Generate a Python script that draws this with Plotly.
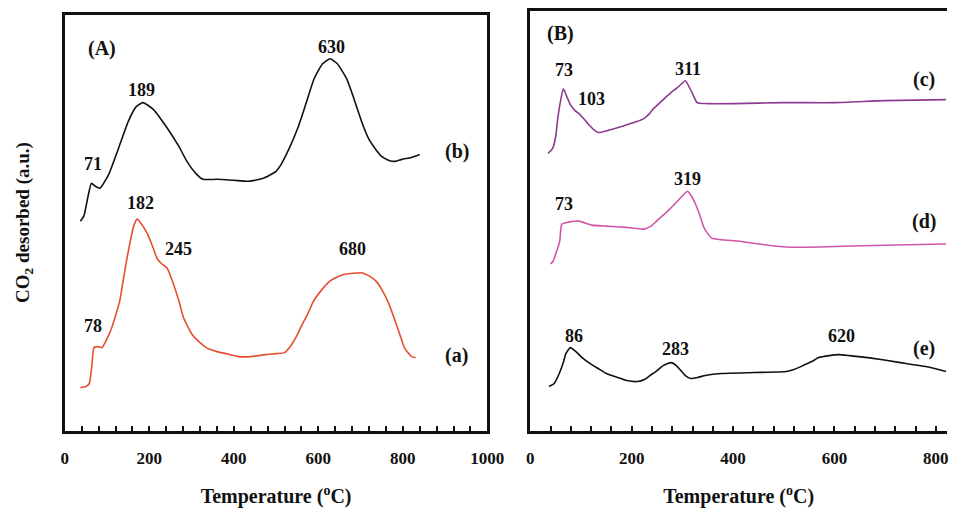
import plotly.graph_objects as go

# ---- data (temperature in degC, signal in arbitrary units) ----
a_T = [37, 50, 58, 64, 69, 78, 88, 100, 111, 120, 130, 138, 146, 155, 163, 171, 180, 196, 210, 219, 230, 242, 257, 270, 281, 300, 320, 335, 360, 381, 412, 440, 474, 500, 520, 535, 548, 558, 575, 589, 610, 628, 650, 666, 690, 705, 720, 736, 752, 767, 780, 790, 805, 821, 830]
a_S = [44, 45, 48, 66, 84, 85, 84, 93, 104, 116, 131, 151, 171, 191, 206, 213, 209, 198, 183, 173, 168, 164, 148, 131, 114, 98, 89, 84, 80, 78, 75, 75, 77, 78, 79, 86, 95, 104, 118, 131, 143, 151, 156, 158, 159, 159, 156, 151, 141, 128, 113, 101, 83, 75, 74]

b_T = [37, 45, 55, 63, 72, 83, 104, 127, 150, 169, 185, 210, 243, 270, 289, 310, 327, 360, 400, 435, 470, 500, 512, 530, 551, 570, 590, 610, 628, 645, 667, 685, 705, 720, 736, 750, 767, 782, 798, 820, 840]
b_S = [211, 216, 236, 249, 246, 244, 258, 284, 311, 326, 330, 323, 304, 286, 271, 259, 253, 253, 252, 251, 254, 261, 268, 283, 304, 328, 354, 369, 374, 369, 354, 333, 308, 293, 283, 276, 272, 271, 273, 275, 278]

c_T = [35, 44, 50, 54, 60, 65, 72, 79, 88, 96, 105, 115, 125, 134, 145, 160, 180, 198, 210, 224, 235, 243, 260, 275, 290, 306, 313, 320, 329, 350, 400, 500, 600, 700, 820]
c_S = [279, 284, 296, 314, 333, 344, 336, 328, 322, 319, 314, 308, 303, 300, 301, 303, 306, 309, 311, 314, 319, 324, 332, 339, 345, 352, 346, 339, 330, 329, 329, 330, 330, 332, 333]

d_T = [40, 45, 52, 58, 62, 75, 96, 121, 150, 185, 224, 238, 249, 262, 275, 292, 310, 318, 326, 335, 343, 358, 409, 450, 505, 570, 634, 720, 820]
d_S = [168, 171, 181, 191, 208, 210, 211, 207, 206, 205, 203, 206, 211, 217, 223, 232, 241, 236, 228, 216, 204, 194, 191, 188, 185, 185, 186, 187, 188]

e_T = [37, 47, 57, 65, 70, 79, 90, 102, 118, 134, 150, 172, 190, 211, 225, 236, 250, 262, 278, 288, 297, 306, 316, 330, 345, 377, 441, 505, 520, 538, 555, 569, 590, 608, 630, 666, 730, 780, 820]
e_S = [45, 48, 58, 69, 78, 84, 80, 74, 68, 63, 58, 54, 51, 50, 52, 56, 61, 66, 69, 66, 61, 56, 53, 54, 56, 58, 59, 60, 62, 66, 70, 74, 76, 77, 76, 74, 69, 65, 60]

x_ticks = [0, 200, 400, 600, 800, 1000]

# annotations: (text, T, signal)
labels_A = [("(A)", 88, 384), ("630", 632, 386), ("189", 181, 343), ("71", 67, 268),
            ("(b)", 928, 281), ("182", 178, 229), ("245", 269, 183), ("680", 681, 183),
            ("78", 67, 106), ("(a)", 928, 76)]
labels_B = [("(B)", 60, 399), ("73", 66, 363), ("103", 121, 334), ("311", 312, 364),
            ("(c)", 776, 353), ("319", 310, 253), ("73", 66, 228), ("(d)", 776, 211),
            ("86", 87, 96), ("283", 287, 83), ("620", 613, 96), ("(e)", 776, 83)]

FONT = "Liberation Serif"
W, H, OFF = 956, 500, 8  # page body has an 8px margin


def px_x(p):
    return (p - OFF) / W


def px_y(p):
    return 1 - (p - OFF) / H


fig = go.Figure()


def add(T, S, color, xa, ya):
    fig.add_trace(go.Scatter(x=T, y=S, mode="lines", xaxis=xa, yaxis=ya,
                             line=dict(color=color, width=1.6, shape="spline", smoothing=0.5),
                             showlegend=False, hoverinfo="skip"))


add(b_T, b_S, "#111111", "x", "y")
add(a_T, a_S, "#e4502f", "x", "y")
add(c_T, c_S, "#8c3a92", "x2", "y2")
add(d_T, d_S, "#cf55a8", "x2", "y2")
add(e_T, e_S, "#111111", "x2", "y2")

ann = []
for labels, xr, yr in ((labels_A, "x", "y"), (labels_B, "x2", "y2")):
    for t, x, y in labels:
        ann.append(dict(text=f"<b>{t}</b>", x=x, y=y, xref=xr, yref=yr, showarrow=False,
                        font=dict(family=FONT, size=20 if t.startswith("(") else 18, color="#111")))

ann.append(dict(text="<b>CO<sub>2</sub> desorbed (a.u.)</b>", x=px_x(20), y=px_y(221),
                xref="paper", yref="paper", xanchor="center", yanchor="middle",
                showarrow=False, textangle=-90,
                font=dict(family=FONT, size=19, color="#111")))

xcommon = dict(tickvals=x_ticks, ticktext=[f"<b>{v}</b>" for v in x_ticks],
               ticks="inside", ticklen=6, tickwidth=1.5, tickcolor="#111",
               minor=dict(dtick=40, tick0=0, ticks="inside", ticklen=6, tickwidth=1.5, tickcolor="#111"),
               showline=True, linecolor="#111", linewidth=2.5, showgrid=False, zeroline=False,
               ticklabelstandoff=10,
               tickfont=dict(family=FONT, size=17, color="#111"),
               title=dict(text="<b>Temperature (<sup>o</sup>C)</b>", font=dict(family=FONT, size=20, color="#111"),
                          standoff=22))

fig.update_layout(
    width=W, height=H, margin=dict(l=0, r=0, t=0, b=0),
    paper_bgcolor="white", plot_bgcolor="white",
    xaxis=dict(domain=[px_x(62), px_x(494)], range=[0, 1000], mirror=True, anchor="y", **xcommon),
    yaxis=dict(domain=[px_y(431), px_y(13)], range=[0, 418], showline=True, mirror=True,
               linecolor="#111", linewidth=2.5, showticklabels=False, ticks="", showgrid=False,
               zeroline=False, anchor="x"),
    xaxis2=dict(domain=[px_x(538), 1.0], range=[0, 822], mirror=True, anchor="y2", **xcommon),
    yaxis2=dict(domain=[px_y(431), px_y(9)], range=[0, 422], showline=True, mirror=False,
                linecolor="#111", linewidth=2.5, showticklabels=False, ticks="", showgrid=False,
                zeroline=False, anchor="x2"),
    annotations=ann,
)

fig.write_html("out.html")
